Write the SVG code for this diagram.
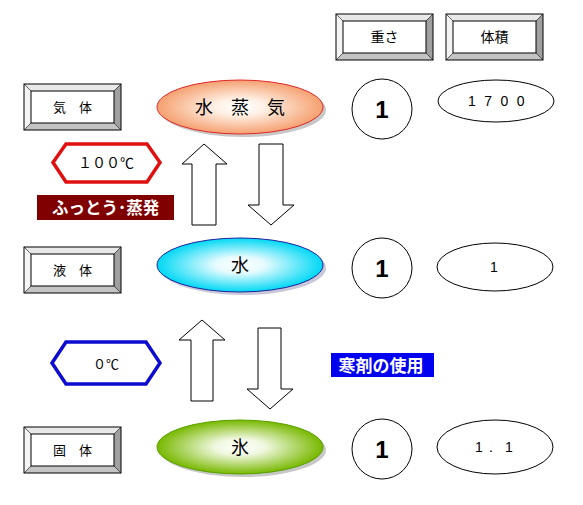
<svg xmlns="http://www.w3.org/2000/svg" width="583" height="505" viewBox="0 0 583 505">
<style>
.t{font-family:"Noto Sans CJK JP","Liberation Sans",sans-serif;fill:#000}
.lbl{font-size:13px}
.big{font-family:"Liberation Sans",Arial,sans-serif;font-weight:bold;font-size:24px}
.num{font-family:"Liberation Sans",Arial,sans-serif;font-size:14px}
.face{fill:#fff;stroke:#000;stroke-width:1}
.out{fill:none;stroke:#000;stroke-width:1}
.bt{fill:#e8e8e8}.bl{fill:#f4f4f4}.br{fill:#a0a0a0}.bb{fill:#c4c4c4}
.circ{fill:#fff;stroke:#000;stroke-width:1}
.arr{fill:#fff;stroke:#000;stroke-width:1}
.wt{font-family:"Noto Sans CJK JP",sans-serif;fill:#fff;font-weight:bold}
</style>
<defs>
<radialGradient id="gSteam" cx="0.5" cy="0.5" r="0.5"><stop offset="0" stop-color="#ffffff"/><stop offset="0.3" stop-color="#fff1e6"/><stop offset="1" stop-color="#f5a070"/></radialGradient>
<radialGradient id="gWater" cx="0.5" cy="0.5" r="0.5"><stop offset="0" stop-color="#ffffff"/><stop offset="0.3" stop-color="#e6fbff"/><stop offset="1" stop-color="#00d8f4"/></radialGradient>
<radialGradient id="gIce" cx="0.5" cy="0.5" r="0.5"><stop offset="0" stop-color="#ffffff"/><stop offset="0.3" stop-color="#f0f8e0"/><stop offset="1" stop-color="#78b800"/></radialGradient>
<g id="btn">
<polygon class="bt" points="0,0 97,0 90,7 7,7"/>
<polygon class="bl" points="0,0 7,7 7,39 0,46"/>
<polygon class="br" points="97,0 97,46 90,39 90,7"/>
<polygon class="bb" points="0,46 7,39 90,39 97,46"/>
<rect class="face" x="7" y="7" width="83" height="32"/>
<rect class="out" x="0" y="0" width="97" height="46"/>
<line x1="0" y1="0" x2="7" y2="7" stroke="#000" stroke-width="0.6"/>
<line x1="97" y1="0" x2="90" y2="7" stroke="#000" stroke-width="0.6"/>
<line x1="0" y1="46" x2="7" y2="39" stroke="#000" stroke-width="0.6"/>
<line x1="97" y1="46" x2="90" y2="39" stroke="#000" stroke-width="0.6"/>
</g>
</defs>
<rect width="583" height="505" fill="#fff"/>

<g id="hdr-weight"><use href="#btn" x="336" y="14"/><text class="t" x="384.5" y="42" font-size="14" text-anchor="middle">重さ</text></g>
<g id="hdr-volume"><use href="#btn" x="446" y="14"/><text class="t" x="494.5" y="42" font-size="14" text-anchor="middle">体積</text></g>

<g id="lbl-gas"><use href="#btn" x="24" y="84"/><text class="t lbl" x="72.5" y="112" text-anchor="middle">気　体</text></g>
<g id="lbl-liquid"><use href="#btn" x="24" y="247"/><text class="t lbl" x="72.5" y="275" text-anchor="middle">液　体</text></g>
<g id="lbl-solid"><use href="#btn" x="24" y="427"/><text class="t lbl" x="72.5" y="455" text-anchor="middle">固　体</text></g>

<g id="steam">
<ellipse cx="243" cy="110" rx="83" ry="27" fill="#c8c8c8"/>
<ellipse cx="240" cy="107" rx="83" ry="27" fill="url(#gSteam)" stroke="#e02828" stroke-width="1"/>
<text class="t" x="240" y="114" font-size="18" text-anchor="middle">水　蒸　気</text>
</g>
<g id="water">
<ellipse cx="243" cy="268" rx="83" ry="27" fill="#c8c8d8"/>
<ellipse cx="240" cy="265" rx="83" ry="27" fill="url(#gWater)" stroke="#2020a0" stroke-width="1"/>
<text class="t" x="240" y="272" font-size="18" text-anchor="middle">水</text>
</g>
<g id="ice">
<ellipse cx="243" cy="450" rx="83" ry="27" fill="#c8c8c8"/>
<ellipse cx="240" cy="447" rx="83" ry="27" fill="url(#gIce)" stroke="#58a000" stroke-width="1"/>
<text class="t" x="240" y="454" font-size="18" text-anchor="middle">氷</text>
</g>

<g id="w-gas"><circle class="circ" cx="382" cy="109" r="30"/><text class="big" x="382" y="118" text-anchor="middle">1</text></g>
<g id="w-liquid"><circle class="circ" cx="382" cy="268" r="30"/><text class="big" x="382" y="277" text-anchor="middle">1</text></g>
<g id="w-solid"><circle class="circ" cx="382" cy="449" r="30"/><text class="big" x="382" y="458" text-anchor="middle">1</text></g>

<g id="v-gas"><ellipse class="circ" cx="496" cy="101" rx="58" ry="21"/><text class="num" x="468" y="106" letter-spacing="8.5">1700</text></g>
<g id="v-liquid"><ellipse class="circ" cx="495" cy="267" rx="58" ry="24"/><text class="num" x="494" y="272" text-anchor="middle">1</text></g>
<g id="v-solid"><ellipse class="circ" cx="495" cy="447" rx="58" ry="27"/><text class="num" x="475 489 505" y="452">1.1</text></g>

<g id="hex100">
<polygon points="53,162.5 66,144 147,144 160,162.5 147,182 66,182" fill="#fff" stroke="#e01010" stroke-width="3.5"/>
<text class="t" x="106" y="168" font-size="14" text-anchor="middle">１００℃</text>
</g>
<g id="hex0">
<polygon points="52,363 66,342 146,342 160,363 146,384 66,384" fill="#fff" stroke="#0c0cd0" stroke-width="3.5"/>
<text class="t" x="106" y="368.5" font-size="13" text-anchor="middle">０℃</text>
</g>

<g id="boil"><rect x="37" y="195" width="137" height="25" fill="#800000"/><text class="wt" x="105.5" y="214" font-size="16.5" text-anchor="middle">ふっとう･蒸発</text></g>
<g id="coolant"><rect x="331" y="353" width="103" height="24" fill="#0000f0"/><text class="wt" x="381" y="371.5" font-size="17" text-anchor="middle">寒剤の使用</text></g>

<g id="connectors">
<polygon class="arr" points="204,144 227,164 216,164 216,225 192,225 192,164 182,164"/>
<polygon class="arr" points="259,144 283,144 283,205 294,205 271,225 248,205 259,205"/>
<polygon class="arr" points="202,320 225,340 213,340 213,401 191,401 191,340 179,340"/>
<polygon class="arr" points="258,328 281,328 281,389 293,389 270,409 247,389 258,389"/>
</g>
</svg>
